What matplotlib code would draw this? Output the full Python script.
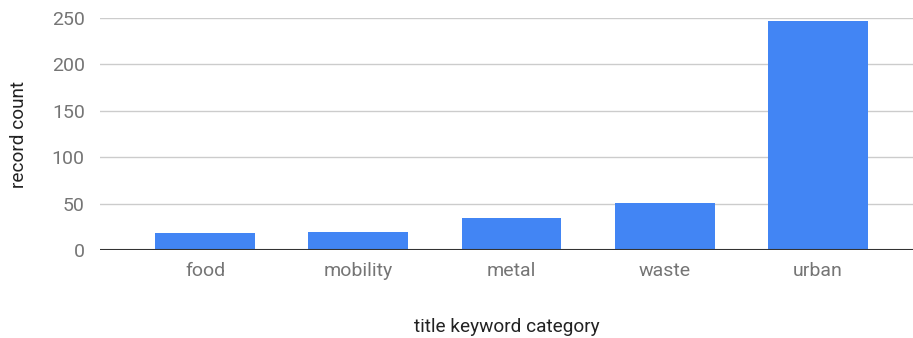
import matplotlib.pyplot as plt

categories = ['food', 'mobility', 'metal', 'waste', 'urban']
counts = [18, 19, 34, 51, 247]
y_ticks = [0, 50, 100, 150, 200, 250]

plt.rcParams['font.family'] = ['Roboto', 'DejaVu Sans']

fig = plt.figure(figsize=(9.13, 3.38), dpi=100)
ax = fig.add_axes([100 / 913, 88 / 338, 813 / 913, 232 / 338])

x = list(range(len(categories)))
ax.bar(x, counts, width=0.65, color='#4285F4', zorder=3)

ax.set_xlim(-0.685, 4.62)
ax.set_ylim(0, 250)
ax.set_yticks(y_ticks)
ax.set_xticks(x)
ax.set_xticklabels(categories)
ax.grid(axis='y', color='#cccccc', linewidth=1, zorder=0)
ax.axhline(0, color='#333333', linewidth=1.5, zorder=4)
for s in ax.spines.values():
    s.set_visible(False)
ax.tick_params(axis='both', length=0, labelsize=14, colors='#757575')
ax.tick_params(axis='y', pad=11)
ax.tick_params(axis='x', pad=9)

ax.set_ylabel('record count', fontsize=13.7, color='#222222', labelpad=17)
ax.set_xlabel('title keyword category', fontsize=13.7, color='#222222', labelpad=27)

fig.savefig('out.png', dpi=100)
